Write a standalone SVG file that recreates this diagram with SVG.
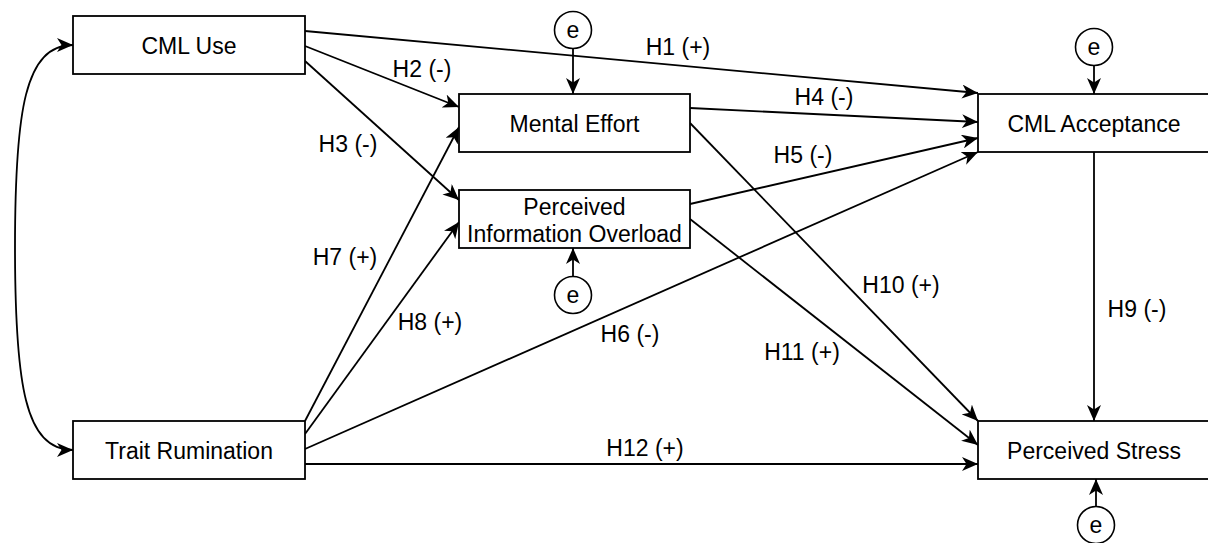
<svg xmlns="http://www.w3.org/2000/svg" width="1208" height="543" viewBox="0 0 1208 543">
  <style>
    .box { fill: #fff; stroke: #000; stroke-width: 1.8; }
    .err { fill: #fff; stroke: #000; stroke-width: 1.6; }
    .lbl { font-family: "Liberation Sans", Arial, sans-serif; font-size: 23px; fill: #000; text-anchor: middle; }
    .edge { fill: none; stroke: #000; stroke-width: 1.8; marker-end: url(#arrow); }
  </style>
  <defs>
    <marker id="arrow" markerUnits="userSpaceOnUse" markerWidth="17" markerHeight="14" viewBox="0 0 17 14" refX="16" refY="7" orient="auto-start-reverse">
      <path d="M0,0 L16,7 L0,14 L4.5,7 Z" fill="#000"/>
    </marker>
  </defs>

  <!-- connectors -->
  <g id="connectors">
    <path class="edge" d="M 73 45 C 25 45 15 110 15 247 C 15 385 25 450 73 450" marker-start="url(#arrow)"/>
    <line class="edge" x1="305" y1="31" x2="978" y2="93"/>
    <line class="edge" x1="305" y1="46" x2="459" y2="107"/>
    <line class="edge" x1="305" y1="61" x2="459" y2="200"/>
    <line class="edge" x1="690" y1="108" x2="978" y2="122"/>
    <line class="edge" x1="690" y1="204" x2="978" y2="138"/>
    <line class="edge" x1="305" y1="449" x2="978" y2="152"/>
    <line class="edge" x1="305" y1="421" x2="459" y2="127"/>
    <line class="edge" x1="305" y1="434" x2="459" y2="222"/>
    <line class="edge" x1="1094" y1="152" x2="1094" y2="421"/>
    <line class="edge" x1="690" y1="123" x2="978" y2="421"/>
    <line class="edge" x1="690" y1="219" x2="978" y2="445"/>
    <line class="edge" x1="305" y1="464" x2="978" y2="464"/>
    <!-- error terms -->
    <line class="edge" x1="573" y1="49" x2="573" y2="94"/>
    <line class="edge" x1="1094" y1="66" x2="1094" y2="94"/>
    <line class="edge" x1="573" y1="277" x2="573" y2="248"/>
    <line class="edge" x1="1096" y1="507" x2="1096" y2="479"/>
  </g>

  <!-- path labels -->
  <g id="labels">
    <text class="lbl" x="678" y="55">H1 (+)</text>
    <text class="lbl" x="422" y="77">H2 (-)</text>
    <text class="lbl" x="348" y="152">H3 (-)</text>
    <text class="lbl" x="824" y="105">H4 (-)</text>
    <text class="lbl" x="803" y="163">H5 (-)</text>
    <text class="lbl" x="630" y="342">H6 (-)</text>
    <text class="lbl" x="345" y="265">H7 (+)</text>
    <text class="lbl" x="430" y="330">H8 (+)</text>
    <text class="lbl" x="1137" y="317">H9 (-)</text>
    <text class="lbl" x="901" y="293">H10 (+)</text>
    <text class="lbl" x="802" y="360">H11 (+)</text>
    <text class="lbl" x="645" y="456">H12 (+)</text>
  </g>

  <g id="cml-use">
    <rect class="box" x="73" y="16" width="232" height="58"/>
    <text class="lbl" x="189" y="54">CML Use</text>
  </g>
  <g id="trait-rumination">
    <rect class="box" x="73" y="421" width="232" height="58"/>
    <text class="lbl" x="189" y="459">Trait Rumination</text>
  </g>
  <g id="mental-effort">
    <rect class="box" x="459" y="94" width="231" height="58"/>
    <text class="lbl" x="574.5" y="132">Mental Effort</text>
  </g>
  <g id="information-overload">
    <rect class="box" x="459" y="190" width="231" height="58"/>
    <text class="lbl" x="574.5" y="215">Perceived</text>
    <text class="lbl" x="574.5" y="242">Information Overload</text>
  </g>
  <g id="cml-acceptance">
    <rect class="box" x="978" y="94" width="232" height="58"/>
    <text class="lbl" x="1094" y="132">CML Acceptance</text>
  </g>
  <g id="perceived-stress">
    <rect class="box" x="978" y="421" width="232" height="58"/>
    <text class="lbl" x="1094" y="459">Perceived Stress</text>
  </g>

  <g id="e-mental-effort">
    <circle class="err" cx="573" cy="30" r="18.5"/>
    <text class="lbl" x="573" y="38">e</text>
  </g>
  <g id="e-cml-acceptance">
    <circle class="err" cx="1094" cy="47" r="18.5"/>
    <text class="lbl" x="1094" y="55">e</text>
  </g>
  <g id="e-information-overload">
    <circle class="err" cx="573" cy="295" r="18.5"/>
    <text class="lbl" x="573" y="303">e</text>
  </g>
  <g id="e-perceived-stress">
    <circle class="err" cx="1096" cy="525" r="18.5"/>
    <text class="lbl" x="1096" y="533">e</text>
  </g>
</svg>
